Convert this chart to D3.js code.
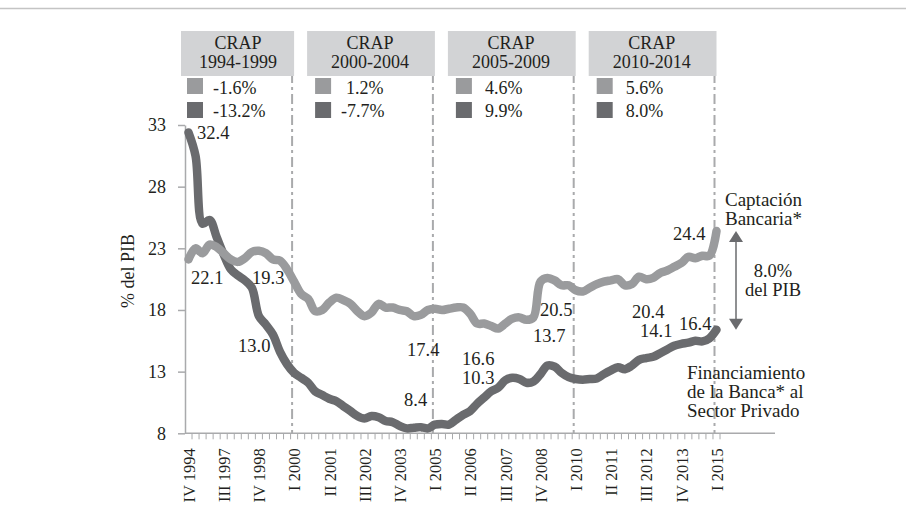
<!DOCTYPE html>
<html>
<head>
<meta charset="utf-8">
<script src="https://cdn.jsdelivr.net/npm/d3@7/dist/d3.min.js"></script>
<style>
  body { margin: 0; background: #fff; }
  svg text { font-family: "Liberation Serif", "Times New Roman", serif; fill: #231f20; }
</style>
</head>
<body>
<div id="chart"></div>
<script>
// trimestres (el primero es IV 1994, luego trimestral desde III 1996)
var periodos = ["IV 1994",
  "III 1996","IV 1996",
  "I 1997","II 1997","III 1997","IV 1997",
  "I 1998","II 1998","III 1998","IV 1998",
  "I 1999","II 1999","III 1999","IV 1999",
  "I 2000","II 2000","III 2000","IV 2000",
  "I 2001","II 2001","III 2001","IV 2001",
  "I 2002","II 2002","III 2002","IV 2002",
  "I 2003","II 2003","III 2003","IV 2003",
  "I 2004","II 2004","III 2004","IV 2004",
  "I 2005","II 2005","III 2005","IV 2005",
  "I 2006","II 2006","III 2006","IV 2006",
  "I 2007","II 2007","III 2007","IV 2007",
  "I 2008","II 2008","III 2008","IV 2008",
  "I 2009","II 2009","III 2009","IV 2009",
  "I 2010","II 2010","III 2010","IV 2010",
  "I 2011","II 2011","III 2011","IV 2011",
  "I 2012","II 2012","III 2012","IV 2012",
  "I 2013","II 2013","III 2013","IV 2013",
  "I 2014","II 2014","III 2014","IV 2014",
  "I 2015"];

// Captacion Bancaria (% del PIB)
var captacion = [22.1, 23.0, 22.6, 23.3, 23.1, 22.6, 22.1, 21.9, 22.2, 22.7,
  22.8, 22.6, 22.1, 22.0, 21.3, 20.3, 19.3, 18.9, 17.9, 18.0,
  18.6, 19.0, 18.8, 18.5, 17.9, 17.5, 17.8, 18.5, 18.2, 18.2,
  18.0, 17.9, 17.5, 17.6, 18.0, 18.1, 18.0, 18.1, 18.2, 18.2,
  17.7, 16.9, 16.9, 16.7, 16.5, 16.9, 17.3, 17.4, 17.2, 17.4,
  20.3, 20.6, 20.4, 20.0, 20.0, 19.6, 19.5, 19.8, 20.1, 20.3,
  20.4, 20.5, 20.0, 20.1, 20.7, 20.5, 20.6, 21.0, 21.2, 21.5,
  21.8, 22.3, 22.2, 22.4, 22.4, 24.4];

// Financiamiento de la Banca al Sector Privado (% del PIB)
var financiamiento = [32.4, 30.5, 25.0, 25.3, 23.9, 22.5, 21.3, 20.8, 20.4, 19.8,
  17.5, 16.8, 16.0, 14.6, 13.6, 12.9, 12.5, 12.1, 11.4, 11.1,
  10.8, 10.6, 10.2, 9.8, 9.4, 9.2, 9.4, 9.3, 9.0, 8.9,
  8.6, 8.4, 8.45, 8.5, 8.4, 8.7, 8.75, 8.7, 9.1, 9.5,
  9.8, 10.4, 10.9, 11.4, 11.7, 12.3, 12.5, 12.4, 12.1, 12.2,
  12.8, 13.5, 13.4, 12.9, 12.55, 12.4, 12.35, 12.4, 12.45, 12.8,
  13.1, 13.35, 13.2, 13.5, 13.95, 14.1, 14.2, 14.5, 14.8, 15.1,
  15.25, 15.35, 15.5, 15.45, 15.7, 16.4];

var yTicks = [8, 13, 18, 23, 28, 33];
var cortes = ["I 2000", "I 2005", "I 2010", "I 2015"];
var crapPeriodos = ["1994-1999", "2000-2004", "2005-2009", "2010-2014"];
var crapCaptacion = ["-1.6%", "1.2%", "4.6%", "5.6%"];
var crapFinanciamiento = ["-13.2%", "-7.7%", "9.9%", "8.0%"];
var brecha = ["8.0%", "del PIB"];
var nombreCapt = ["Captación", "Bancaria*"];
var nombreFin = ["Financiamiento", "de la Banca* al", "Sector Privado"];

// etiquetas de valores sobre el grafico [texto, x, y base]
var notas = [
  ["32.4", 197, 139], ["22.1", 191, 284], ["19.3", 252, 284], ["13.0", 238, 352],
  ["17.4", 407, 356], ["8.4", 404, 406], ["16.6", 462, 365], ["10.3", 462, 384],
  ["20.5", 540, 316], ["13.7", 533, 342], ["20.4", 632, 318], ["14.1", 640, 337],
  ["16.4", 679, 330], ["24.4", 673, 240]
];

var colorCapt = "#9a9b9d", colorFin = "#6a6b6e", colorGrid = "#a9aaac", colorCaja = "#d2d3d5";

var width = 906, height = 521;
var svg = d3.select("#chart").append("svg")
  .attr("width", width).attr("height", height)
  .style("display", "block");

svg.append("rect").attr("width", width).attr("height", height).attr("fill", "#fff");
svg.append("line").attr("x1", 0).attr("x2", width).attr("y1", 8.5).attr("y2", 8.5)
  .attr("stroke", "#c4c4c4").attr("stroke-width", 1.5);

var x = d3.scalePoint().domain(periodos).range([188.5, 716.5]);
var y = d3.scaleLinear().domain([8, 33]).range([433.3, 125]);
var step = x.step();

// cortes de periodo (lineas punteadas)
var corteX = function(d) { return x(d) - 2; };
svg.selectAll("line.corte").data(cortes).enter().append("line")
  .attr("class", "corte")
  .attr("x1", corteX).attr("x2", corteX)
  .attr("y1", 31).attr("y2", y(8))
  .attr("stroke", colorGrid).attr("stroke-width", 2)
  .attr("stroke-dasharray", "10,4,3,4");

// cajas CRAP
var cajaIzq = function(i) { return i === 0 ? 181 : corteX(cortes[i - 1]) + 15; };
var cajas = svg.selectAll("g.caja").data(crapPeriodos).enter().append("g").attr("class", "caja")
  .attr("transform", function(d, i) { return "translate(" + cajaIzq(i) + ",0)"; });
cajas.append("rect")
  .attr("x", 0).attr("y", 31)
  .attr("width", function(d, i) { return corteX(cortes[i]) + 2 - cajaIzq(i); })
  .attr("height", 45)
  .attr("fill", colorCaja);
cajas.append("text").text("CRAP")
  .attr("x", function(d, i) { return i === 0 ? 57 : 63; }).attr("y", 49)
  .attr("text-anchor", "middle").style("font-size", "18px");
cajas.append("text").text(function(d) { return d; })
  .attr("x", function(d, i) { return i === 0 ? 57 : 63; }).attr("y", 68)
  .attr("text-anchor", "middle").style("font-size", "18px");
cajas.append("rect").attr("x", function(d, i) { return i === 0 ? 6 : 8; }).attr("y", 78)
  .attr("width", 16).attr("height", 16).attr("fill", colorCapt);
cajas.append("rect").attr("x", function(d, i) { return i === 0 ? 6 : 8; }).attr("y", 102)
  .attr("width", 16).attr("height", 16).attr("fill", colorFin);
cajas.append("text").text(function(d, i) { return crapCaptacion[i]; })
  .attr("x", function(d, i) { return i === 0 ? 32 : (i === 1 ? 39 : 37); }).attr("y", 94)
  .style("font-size", "18px");
cajas.append("text").text(function(d, i) { return crapFinanciamiento[i]; })
  .attr("x", function(d, i) { return i === 0 ? 32 : (i === 1 ? 34 : 37); }).attr("y", 117)
  .style("font-size", "18px");

// eje Y
var yAxis = d3.axisLeft(y).tickValues(yTicks).tickSize(7).tickPadding(12).tickSizeOuter(0);
var gy = svg.append("g").attr("transform", "translate(185,0)").call(yAxis);
gy.select(".domain").attr("stroke", colorGrid).attr("stroke-width", 1.5);
gy.selectAll(".tick line").attr("stroke", colorGrid).attr("stroke-width", 1.5);
gy.selectAll(".tick text").style("font-size", "18px")
  .style("font-family", "'Liberation Serif', serif").attr("fill", "#231f20");

svg.append("text").text("% del PIB")
  .attr("transform", "translate(134,271) rotate(-90)")
  .attr("text-anchor", "middle").style("font-size", "18px");

// eje X
svg.append("line").attr("x1", 185).attr("x2", 775).attr("y1", y(8)).attr("y2", y(8))
  .attr("stroke", colorGrid).attr("stroke-width", 1.5);
svg.selectAll("line.xtick").data(periodos).enter().append("line")
  .attr("class", "xtick")
  .attr("x1", function(d) { return x(d) + step / 2; })
  .attr("x2", function(d) { return x(d) + step / 2; })
  .attr("y1", y(8)).attr("y2", y(8) + 6)
  .attr("stroke", colorGrid).attr("stroke-width", 1);

var xAxis = d3.axisBottom(x).tickSize(0)
  .tickFormat(function(d, i) { return i % 5 === 0 ? d : ""; });
var gx = svg.append("g").attr("transform", "translate(0," + y(8) + ")").call(xAxis);
gx.select(".domain").remove();
gx.selectAll(".tick text")
  .attr("transform", "rotate(-90)")
  .attr("x", -15).attr("y", 0).attr("dy", "0.35em")
  .style("text-anchor", "end").style("font-size", "16.5px")
  .style("font-family", "'Liberation Serif', serif").attr("fill", "#231f20");

// series
var linea = d3.line()
  .x(function(d, i) { return x(periodos[i]); })
  .y(function(d) { return y(d); })
  .curve(d3.curveCatmullRom.alpha(0.5));

svg.append("path").datum(financiamiento)
  .attr("d", linea).attr("fill", "none")
  .attr("stroke", colorFin).attr("stroke-width", 8.5)
  .attr("stroke-linecap", "round").attr("stroke-linejoin", "round");
svg.append("path").datum(captacion)
  .attr("d", linea).attr("fill", "none")
  .attr("stroke", colorCapt).attr("stroke-width", 8.5)
  .attr("stroke-linecap", "round").attr("stroke-linejoin", "round");

// etiquetas de valores
svg.selectAll("text.nota").data(notas).enter().append("text")
  .attr("class", "nota")
  .attr("x", function(d) { return d[1]; }).attr("y", function(d) { return d[2]; })
  .style("font-size", "18.5px")
  .text(function(d) { return d[0]; });

// flecha de brecha entre las dos series al final
var ult = periodos.length - 1;
var ax = 736;
var yTop = y(captacion[ult]), yBot = y(financiamiento[ult]);
svg.append("line").attr("x1", ax).attr("x2", ax).attr("y1", yTop + 10).attr("y2", yBot - 10)
  .attr("stroke", colorFin).attr("stroke-width", 1.5);
svg.append("path")
  .attr("d", "M" + ax + "," + yTop + " L" + (ax - 7) + "," + (yTop + 11) + " L" + (ax + 7) + "," + (yTop + 11) + "Z")
  .attr("fill", colorFin);
svg.append("path")
  .attr("d", "M" + ax + "," + yBot + " L" + (ax - 7) + "," + (yBot - 11) + " L" + (ax + 7) + "," + (yBot - 11) + "Z")
  .attr("fill", colorFin);

svg.selectAll("text.brecha").data(brecha).enter().append("text")
  .attr("class", "brecha")
  .attr("x", 773).attr("y", function(d, i) { return 277 + i * 18.5; })
  .attr("text-anchor", "middle").style("font-size", "18.5px")
  .text(function(d) { return d; });

// nombres de las series
svg.selectAll("text.ncapt").data(nombreCapt).enter().append("text")
  .attr("class", "ncapt")
  .attr("x", 725).attr("y", function(d, i) { return 206 + i * 19; })
  .style("font-size", "19px").text(function(d) { return d; });
svg.selectAll("text.nfin").data(nombreFin).enter().append("text")
  .attr("class", "nfin")
  .attr("x", 687).attr("y", function(d, i) { return 379 + i * 19; })
  .style("font-size", "19px").text(function(d) { return d; });
</script>
</body>
</html>
